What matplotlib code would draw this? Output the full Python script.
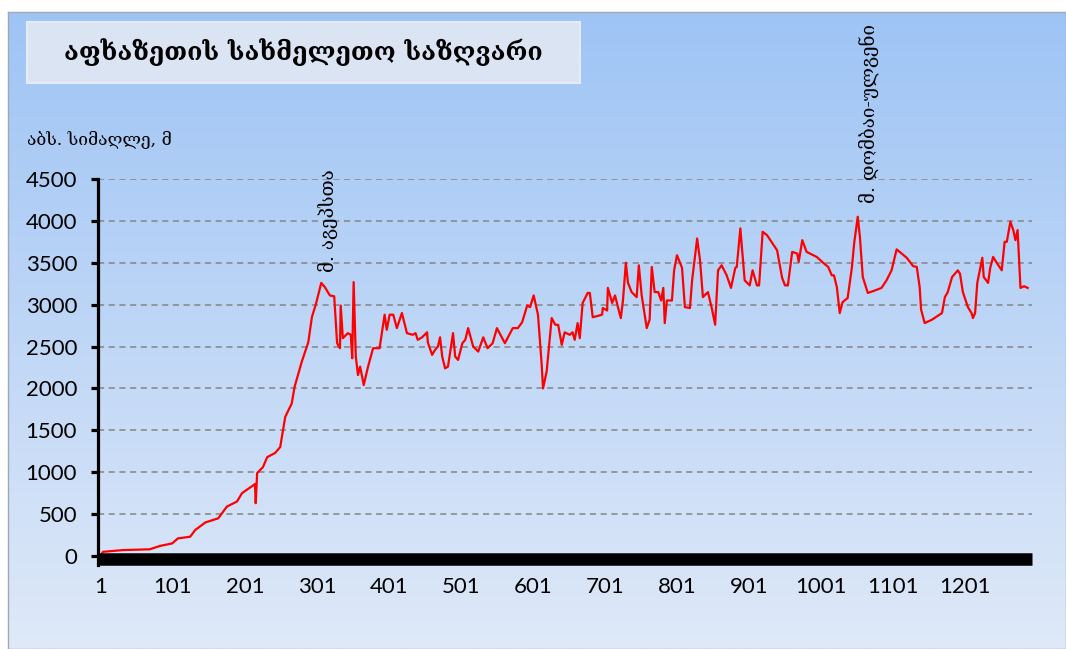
import numpy as np
import matplotlib.pyplot as plt
from matplotlib.patches import Rectangle

# border profile: point number along the border -> elevation (m)
point_idx = [1, 4, 31, 69, 83, 100, 108, 125, 132, 146, 164, 176, 190, 197, 212, 215, 216, 218, 226, 232,
             243, 250, 257, 266, 270, 280, 289, 294, 300, 307, 312, 319, 325, 329, 333, 334, 337, 344, 348, 350,
             352, 355, 358, 361, 366, 372, 379, 388, 395, 398, 402, 407, 412, 419, 426, 434, 438, 441, 447, 454,
             455, 461, 465, 469, 472, 475, 479, 483, 490, 493, 497, 503, 507, 511, 518, 525, 532, 538, 545, 551,
             562, 573, 580, 586, 593, 597, 602, 608, 613, 615, 620, 627, 632, 636, 641, 645, 652, 656, 659, 663,
             666, 670, 677, 680, 684, 697, 698, 704, 705, 711, 715, 719, 723, 726, 730, 733, 738, 745, 748, 752,
             759, 763, 766, 770, 775, 779, 782, 784, 787, 794, 797, 801, 808, 812, 819, 822, 829, 833, 837, 844,
             849, 854, 858, 863, 870, 876, 882, 884, 889, 895, 902, 906, 912, 915, 920, 926, 940, 947, 951, 955,
             961, 968, 970, 975, 981, 995, 1004, 1011, 1016, 1019, 1023, 1027, 1031, 1038, 1044, 1047, 1052, 1055,
             1059, 1066, 1076, 1085, 1092, 1099, 1106, 1113, 1120, 1129, 1134, 1138, 1140, 1145, 1155, 1169, 1173,
             1177, 1183, 1191, 1194, 1198, 1205, 1210, 1212, 1215, 1218, 1225, 1227, 1233, 1236, 1240, 1245, 1252,
             1256, 1259, 1264, 1268, 1271, 1274, 1278, 1283, 1288]
elevation = [10, 50, 70, 80, 120, 150, 210, 230, 310, 400, 450, 590, 650, 750, 840, 860, 630, 990, 1060, 1180,
             1230, 1300, 1660, 1820, 2020, 2320, 2550, 2850, 3020, 3260, 3210, 3110, 3100, 2540, 2480, 2990, 2600, 2660, 2640, 2360,
             3270, 2380, 2160, 2260, 2040, 2260, 2480, 2480, 2880, 2700, 2880, 2880, 2720, 2900, 2660, 2640, 2660, 2580, 2610, 2670,
             2550, 2400, 2460, 2500, 2610, 2380, 2240, 2260, 2660, 2380, 2340, 2540, 2580, 2720, 2500, 2440, 2610, 2480, 2540, 2720,
             2540, 2720, 2720, 2790, 2990, 2970, 3110, 2880, 2300, 2000, 2200, 2840, 2760, 2760, 2520, 2670, 2640, 2670, 2580, 2780,
             2600, 3020, 3140, 3140, 2850, 2880, 2960, 2930, 3200, 3020, 3110, 2970, 2840, 3050, 3500, 3260, 3150, 3090, 3470, 3110,
             2720, 2820, 3450, 3150, 3150, 3050, 3200, 2780, 3050, 3050, 3410, 3590, 3440, 2970, 2960, 3290, 3790, 3530, 3090, 3150,
             2970, 2760, 3410, 3470, 3350, 3200, 3440, 3450, 3910, 3290, 3230, 3410, 3230, 3230, 3870, 3830, 3650, 3320, 3230, 3230,
             3630, 3610, 3510, 3770, 3630, 3570, 3500, 3450, 3350, 3350, 3210, 2900, 3030, 3080, 3450, 3730, 4050, 3810,
             3330, 3140, 3170, 3200, 3290, 3410, 3660, 3610, 3560, 3460, 3450, 3210, 2940, 2780, 2820, 2900, 3090,
             3150, 3330, 3410, 3370, 3150, 2970, 2900, 2840, 2900, 3260, 3560, 3330, 3260, 3440, 3570, 3500, 3410,
             3750, 3750, 3990, 3890, 3770, 3890, 3200, 3220, 3200]

y_ticks = [0, 500, 1000, 1500, 2000, 2500, 3000, 3500, 4000, 4500]
x_ticks = [1, 101, 201, 301, 401, 501, 601, 701, 801, 901, 1001, 1101, 1201]
peak_idx = [307, 1052]
peak_names = ["მ. აგეპსთა", "მ. დომბაი-ულგენი"]
title = "აფხაზეთის სახმელეთო საზღვარი"
y_label = "აბს. სიმაღლე, მ"

geo_font = ['DejaVu Serif', 'DejaVu Sans']
num_font = ['Lato', 'DejaVu Sans']

fig = plt.figure(figsize=(10.66, 6.49), dpi=100, facecolor='white')

# gradient background panel
bg = fig.add_axes([8 / 1066, 0, 1058 / 1066, 637 / 649])
top = np.array([158, 196, 245]) / 255
bottom = np.array([223, 233, 248]) / 255
t = np.linspace(0, 1, 256)[:, None]
grad = top + (bottom - top) * t
bg.imshow(grad[:, None, :].repeat(2, axis=1), aspect='auto', extent=[0, 1, 0, 1])
bg.set_xticks([])
bg.set_yticks([])
for s in bg.spines.values():
    s.set_color('#a0a8b4')
    s.set_linewidth(1)

# title box
fig.patches.append(Rectangle((27 / 1066, 1 - 83 / 649), 553 / 1066, 61 / 649,
                             transform=fig.transFigure, facecolor='#dbe4f3',
                             edgecolor='#e6ecf7', linewidth=1.5, zorder=2))
fig.text(303 / 1066, 1 - 52 / 649, title, family=geo_font, fontsize=18, fontweight='bold',
         ha='center', va='center', color='black', zorder=3)
fig.text(27 / 1066, 1 - 140 / 649, y_label, family=geo_font, fontsize=12.5,
         ha='left', va='center', color='black')

ax = fig.add_axes([98 / 1066, 1 - 565.2 / 649, 934 / 1066, 386.2 / 649])
ax.patch.set_alpha(0)

for s in ['top', 'right']:
    ax.spines[s].set_visible(False)
ax.spines['left'].set_linewidth(2.3)
ax.spines['bottom'].set_position(('data', -40))
ax.spines['bottom'].set_linewidth(9)
ax.spines['bottom'].set_capstyle('butt')
ax.spines['bottom'].set_zorder(4)

ax.plot(point_idx, elevation, color='#ff0000', linewidth=1.6, zorder=3)

ax.set_xlim(-3, 1294)
ax.set_ylim(-110, 4500)
ax.set_yticks(y_ticks)
ax.set_xticks(x_ticks)
ax.set_yticklabels([str(v) for v in y_ticks], family=num_font, fontsize=16)
ax.set_xticklabels([str(v) for v in x_ticks], family=num_font, fontsize=16)

for v in y_ticks[1:]:
    ax.axhline(v, color='#858585', linewidth=1.1, linestyle=(0, (4, 3)), zorder=1)

ax.tick_params(axis='y', direction='out', length=5, width=2.3, pad=10, colors='black')
ax.tick_params(axis='x', length=0, pad=13, colors='black')

for i, name in zip(peak_idx, peak_names):
    k = point_idx.index(i)
    off = (5, 8) if i < 600 else (8, 10)
    ax.annotate(name, xy=(i, elevation[k]), xytext=off, textcoords='offset points',
                rotation=90, ha='center', va='bottom', family=geo_font, fontsize=13.5,
                annotation_clip=False, color='black')

fig.savefig('out.png', dpi=100, facecolor='white')
